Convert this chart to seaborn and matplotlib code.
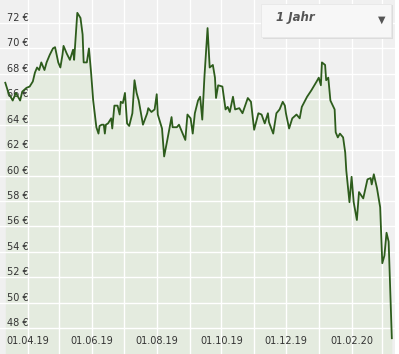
import matplotlib
matplotlib.use("Agg")
import matplotlib.pyplot as plt
import matplotlib.dates as mdates
from matplotlib.patches import FancyBboxPatch, Rectangle
import seaborn as sns
import pandas as pd

dates = [
    "2019-03-11", "2019-03-14", "2019-03-18", "2019-03-21", "2019-03-25", "2019-03-27", "2019-03-31",
    "2019-04-03", "2019-04-06", "2019-04-08", "2019-04-10", "2019-04-12", "2019-04-14", "2019-04-17",
    "2019-04-19", "2019-04-22", "2019-04-25", "2019-04-27", "2019-04-30", "2019-05-02", "2019-05-04",
    "2019-05-05", "2019-05-08", "2019-05-11", "2019-05-14", "2019-05-15", "2019-05-18", "2019-05-21",
    "2019-05-23", "2019-05-24", "2019-05-27", "2019-05-29", "2019-05-31", "2019-06-02", "2019-06-05",
    "2019-06-07", "2019-06-08", "2019-06-10", "2019-06-12", "2019-06-13", "2019-06-14", "2019-06-16",
    "2019-06-19", "2019-06-20", "2019-06-22", "2019-06-25", "2019-06-27", "2019-06-28", "2019-06-30",
    "2019-07-02", "2019-07-04", "2019-07-06", "2019-07-09", "2019-07-11", "2019-07-13", "2019-07-15",
    "2019-07-19", "2019-07-23", "2019-07-24", "2019-07-27", "2019-07-30", "2019-08-01", "2019-08-02",
    "2019-08-06", "2019-08-08", "2019-08-11", "2019-08-15", "2019-08-16", "2019-08-20", "2019-08-22",
    "2019-08-25", "2019-08-28", "2019-08-30", "2019-09-02", "2019-09-04", "2019-09-06", "2019-09-09",
    "2019-09-11", "2019-09-13", "2019-09-15", "2019-09-18", "2019-09-20", "2019-09-23", "2019-09-25",
    "2019-09-26", "2019-09-28", "2019-10-02", "2019-10-05", "2019-10-07", "2019-10-09", "2019-10-12",
    "2019-10-14", "2019-10-18", "2019-10-21", "2019-10-26", "2019-10-29", "2019-11-01", "2019-11-05",
    "2019-11-08", "2019-11-11", "2019-11-14", "2019-11-15", "2019-11-19", "2019-11-22", "2019-11-25",
    "2019-11-28", "2019-11-30", "2019-12-01", "2019-12-04", "2019-12-07", "2019-12-11", "2019-12-14",
    "2019-12-16", "2019-12-21", "2019-12-25", "2019-12-30", "2020-01-01", "2020-01-03", "2020-01-04",
    "2020-01-07", "2020-01-08", "2020-01-10", "2020-01-12", "2020-01-16", "2020-01-17", "2020-01-19",
    "2020-01-21", "2020-01-24", "2020-01-26", "2020-01-27", "2020-01-30", "2020-02-01", "2020-02-03",
    "2020-02-06", "2020-02-08", "2020-02-12", "2020-02-16", "2020-02-19", "2020-02-20", "2020-02-22",
    "2020-02-25", "2020-02-28", "2020-03-01", "2020-03-03", "2020-03-05", "2020-03-07", "2020-03-10",
]
prices = [
    67.3, 66.5, 65.9, 66.5, 65.9, 66.6, 66.9,
    67.0, 67.4, 68.1, 68.5, 68.3, 68.9, 68.3,
    68.9, 69.5, 70.0, 70.1, 68.9, 68.5, 69.5,
    70.2, 69.6, 69.1, 69.9, 69.1, 72.8, 72.4,
    71.1, 68.9, 68.9, 70.0, 68.1, 65.9, 63.8,
    63.3, 63.9, 64.0, 64.0, 63.3, 64.0, 64.1,
    64.5, 63.7, 65.5, 65.5, 64.8, 65.8, 65.7,
    66.5, 64.1, 63.9, 64.9, 67.5, 66.5, 65.9,
    64.0, 64.9, 65.3, 65.0, 65.2, 66.4, 64.8,
    63.7, 61.5, 62.8, 64.6, 63.8, 63.8, 64.0,
    63.4, 62.8, 64.8, 64.5, 63.3, 64.9, 65.9,
    66.2, 64.4, 67.7, 71.6, 68.5, 68.7, 67.7,
    66.1, 67.1, 67.0, 65.2, 65.4, 65.0, 66.2,
    65.2, 65.3, 64.9, 66.1, 65.8, 63.6, 64.9,
    64.8, 64.1, 64.9, 64.2, 63.3, 64.9, 65.2,
    65.8, 65.5, 64.9, 63.7, 64.5, 64.8, 64.5,
    65.4, 66.2, 66.7, 67.4, 67.7, 67.1, 68.9,
    68.7, 67.5, 67.7, 65.9, 65.2, 63.4, 63.0,
    63.3, 63.0, 61.8, 60.4, 57.9, 59.9, 57.9,
    56.5, 58.7, 58.2, 59.7, 59.8, 59.3, 60.1,
    59.0, 57.5, 53.1, 53.7, 55.5, 54.8, 47.2,
]
y_ticks = [48, 50, 52, 54, 56, 58, 60, 62, 64, 66, 68, 70, 72]
y_tick_labels = [f"{v} €" for v in y_ticks]
period_label = "1 Jahr"

df = pd.DataFrame({"date": pd.to_datetime(dates), "price": prices})

W, H = 399, 354
fig = plt.figure(figsize=(W / 100, H / 100), dpi=100)
fig.patch.set_facecolor("white")
ax = fig.add_axes([0, 0, 395 / W, 1])
ax.set_facecolor("#f0f0f0")

x_lo = pd.Timestamp("2019-03-06")
x_hi = pd.Timestamp("2020-03-13")
y_lo, y_hi = 45.96, 73.81

ax.fill_between(df["date"], df["price"], y_lo, color="#e4ebdf", zorder=1, linewidth=0)
sns.lineplot(data=df, x="date", y="price", ax=ax, color="#2d5c1c", linewidth=1.3, zorder=3)

ax.set_xlim(x_lo, x_hi)
ax.set_ylim(y_lo, y_hi)

ax.xaxis.set_major_locator(mdates.MonthLocator(bymonth=[2, 4, 6, 8, 10, 12]))
ax.xaxis.set_minor_locator(mdates.MonthLocator())
ax.xaxis.set_major_formatter(mdates.DateFormatter("%d.%m.%y"))
ax.set_yticks(y_ticks)
ax.set_yticklabels(y_tick_labels)

ax.grid(True, which="both", color="white", linewidth=1.0, zorder=2)
ax.set_axisbelow(False)
for gl in ax.get_xgridlines() + ax.get_ygridlines():
    gl.set_zorder(2)
for gl in ax.xaxis.get_minorticklines():
    pass
ax.xaxis.grid(True, which="minor", color="white", linewidth=1.0)

ax.tick_params(axis="both", which="both", length=0)
ax.tick_params(axis="y", pad=-5, labelsize=7, labelcolor="#333333")
ax.tick_params(axis="x", pad=-9.4, labelsize=7, labelcolor="#333333")
for lab in ax.get_yticklabels():
    lab.set_ha("left")
    lab.set_va("bottom")
for lab in ax.get_xticklabels():
    lab.set_va("center")

for s in ax.spines.values():
    s.set_visible(False)
ax.set_xlabel("")
ax.set_ylabel("")

# dropdown box
shadow = Rectangle((263 / 395, 1 - 39 / H), 130 / 395, 34 / H, transform=ax.transAxes,
                   facecolor="#dcdcdc", edgecolor="none", zorder=5)
ax.add_patch(shadow)
box = Rectangle((261 / 395, 1 - 37 / H), 130 / 395, 33 / H, transform=ax.transAxes,
                facecolor="#f7f7f7", edgecolor="#e8e8e8", linewidth=0.6, zorder=6)
ax.add_patch(box)
ax.text(276 / 395, 1 - 18 / H, period_label, transform=ax.transAxes, ha="left", va="center",
        fontsize=8.5, fontweight="bold", fontstyle="italic", color="#555555", zorder=7)
ax.text(382 / 395, 1 - 20 / H, "▼", transform=ax.transAxes, ha="center", va="center",
        fontsize=7, color="#555555", zorder=7)

fig.savefig("out.png", dpi=100)
